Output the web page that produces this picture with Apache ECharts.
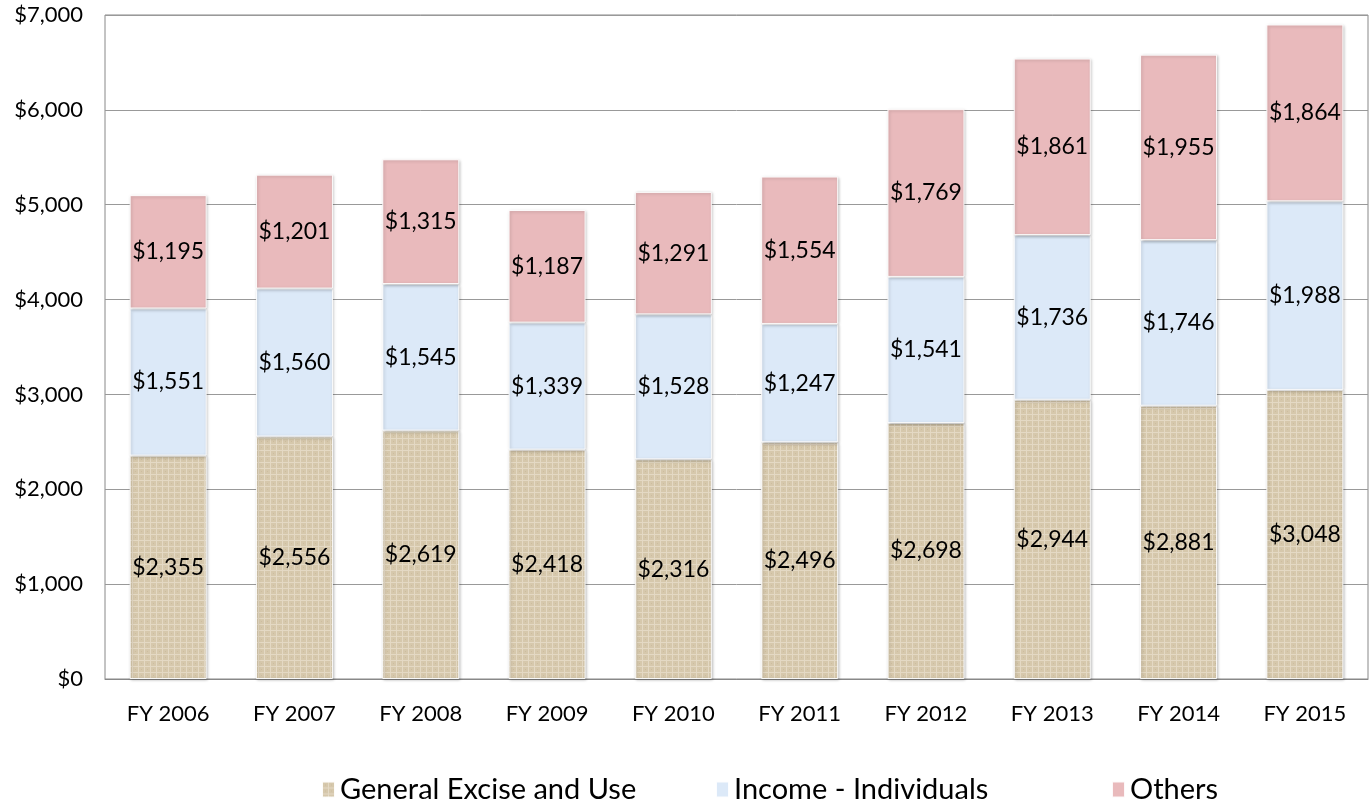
<!DOCTYPE html>
<html><head><meta charset="utf-8">
<script src="https://cdn.jsdelivr.net/npm/echarts@6/dist/echarts.min.js"></script>
<style>html,body{margin:0;padding:0;background:#fff}#c{width:1371px;height:806px}</style>
</head><body><div id="c"></div>
<script>
const categories = ['FY 2006','FY 2007','FY 2008','FY 2009','FY 2010','FY 2011','FY 2012','FY 2013','FY 2014','FY 2015'];
const generalExcise = [2355,2556,2619,2418,2316,2496,2698,2944,2881,3048];
const incomeIndividuals = [1551,1560,1545,1339,1528,1247,1541,1736,1746,1988];
const others = [1195,1201,1315,1187,1291,1554,1769,1861,1955,1864];
const seriesNames = ['General Excise and Use','Income - Individuals','Others'];
const font = 'Lato, "Open Sans", sans-serif';
const fmt = v => '$' + v.toLocaleString('en-US');

function linen(){
  const c = document.createElement('canvas'); c.width = 6; c.height = 6;
  const g = c.getContext('2d');
  g.fillStyle = '#d6c8ac'; g.fillRect(0,0,6,6);
  g.fillStyle = '#e4d9c4'; g.fillRect(0,0,6,1); g.fillRect(0,0,1,6);
  g.fillStyle = '#cdbd9f'; g.fillRect(3,3,1,1);
  return {image:c, repeat:'repeat'};
}
const colors = [linen(), '#dce9f8', '#e9babc'];
function mk(name, data, color){
  return {name, type:'bar', stack:'t', data, barWidth:77,
    itemStyle:{color, borderColor:'rgba(255,255,255,0.9)', borderWidth:1, shadowColor:'rgba(0,0,0,0.25)', shadowBlur:3, shadowOffsetX:1, shadowOffsetY:1},
    label:{show:true, position:'inside', formatter:p=>fmt(p.value), color:'#000', fontSize:23, fontFamily:font}};
}
function lg(name, left){
  return {top:770, left, itemWidth:13, itemHeight:16, icon:'rect', itemGap:0,
    textStyle:{fontSize:29, fontFamily:font, color:'#000'}, data:[name]};
}
const chart = echarts.init(document.getElementById('c'));
chart.setOption({
  animation:false,
  grid:{left:105, right:3, top:15, bottom:127, show:true, borderColor:'#888', borderWidth:1},
  legend:[lg(seriesNames[0], 316), lg(seriesNames[1], 710), lg(seriesNames[2], 1106)],
  xAxis:{type:'category', data:categories, axisTick:{show:false}, axisLine:{lineStyle:{color:'#888'}},
    axisLabel:{fontSize:22, fontFamily:font, color:'#000', margin:24}},
  yAxis:{type:'value', min:0, max:7000, interval:1000, axisLine:{show:false}, axisTick:{show:false},
    splitLine:{lineStyle:{color:'#999'}},
    axisLabel:{fontSize:22, fontFamily:font, color:'#000', margin:22, formatter:v=>fmt(v)}},
  series:[mk(seriesNames[0], generalExcise, colors[0]), mk(seriesNames[1], incomeIndividuals, colors[1]), mk(seriesNames[2], others, colors[2])]
});
</script></body></html>
